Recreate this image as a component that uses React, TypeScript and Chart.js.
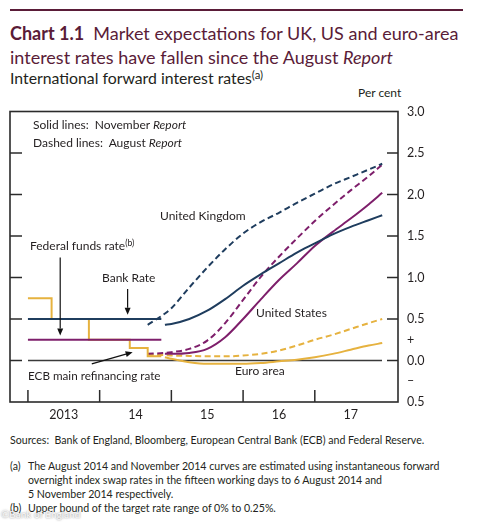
import React, { useEffect, useRef } from 'react';
import { Chart, registerables } from 'chart.js';

Chart.register(...registerables);

const FONT = "Lato, 'Noto Sans', sans-serif";
const TEXT = '#231f20';
const NAVY = '#1f3d5e';
const PURPLE = '#7e1f6b';
const GOLD = '#e6b23f';

// Historical policy rates (per cent)
const historyDates = [2013.0, 2014.86];
const bankRate = [0.5, 0.5];
const fedFundsRate = [0.25, 0.25];
const ecbDates = [2013.0, 2013.33, 2013.85, 2014.42, 2014.67, 2014.86];
const ecbRate = [0.75, 0.5, 0.25, 0.15, 0.05, 0.05];

// August Report forward curves (dashed)
const augDates = [2014.67, 2014.9, 2015.0, 2015.25, 2015.5, 2015.75, 2016.0, 2016.25, 2016.5, 2016.75, 2017.0, 2017.25, 2017.5, 2017.75, 2017.94];
const ukAug = [0.43, 0.56, 0.63, 0.88, 1.12, 1.34, 1.53, 1.67, 1.78, 1.9, 2.01, 2.12, 2.21, 2.3, 2.37];
const usAug = [0.08, 0.09, 0.1, 0.14, 0.24, 0.45, 0.73, 1.01, 1.25, 1.47, 1.68, 1.87, 2.05, 2.22, 2.36];
const euroAug = [0.07, 0.065, 0.06, 0.055, 0.05, 0.05, 0.06, 0.08, 0.12, 0.18, 0.25, 0.31, 0.38, 0.45, 0.5];

// November Report forward curves (solid)
const novDates = [2014.91, 2015.0, 2015.25, 2015.5, 2015.75, 2016.0, 2016.25, 2016.5, 2016.75, 2017.0, 2017.25, 2017.5, 2017.75, 2017.94];
const ukNov = [0.43, 0.44, 0.5, 0.6, 0.74, 0.9, 1.04, 1.17, 1.3, 1.41, 1.52, 1.61, 1.69, 1.75];
const usNov = [0.08, 0.08, 0.09, 0.14, 0.28, 0.5, 0.74, 0.97, 1.17, 1.38, 1.55, 1.71, 1.88, 2.02];
const euroNov = [0.04, 0.02, -0.02, -0.04, -0.04, -0.04, -0.03, -0.01, 0.01, 0.04, 0.08, 0.13, 0.18, 0.21];

// Axes
const xTickValues = [2013.5, 2014.5, 2015.5, 2016.5, 2017.5];
const xTickLabels = ['2013', '14', '15', '16', '17'];
const xMarkValues = [2013, 2014, 2015, 2016, 2017];
const yTickValues = [3.0, 2.5, 2.0, 1.5, 1.0, 0.5, 0.25, 0, -0.25, -0.5];
const yTickLabels = ['3.0', '2.5', '2.0', '1.5', '1.0', '0.5', '+', '0.0', '\u2013', '0.5'];
const yMarkValues = [2.5, 2.0, 1.5, 1.0, 0.5, 0];

// Annotation arrows: [x0, y0, x1, y1] in data units (tip at x1, y1)
const fedArrow = [2013.45, 1.24, 2013.45, 0.3];
const bankArrow = [2014.39, 0.86, 2014.39, 0.55];
const ecbArrow = [2013.89, -0.04, 2014.46, 0.1];

const pts = (xs: number[], ys: number[]) => xs.map((x, i) => ({ x, y: ys[i] }));

const line = (ctx: CanvasRenderingContext2D, x0: number, y0: number, x1: number, y1: number) => {
  ctx.beginPath();
  ctx.moveTo(x0, y0);
  ctx.lineTo(x1, y1);
  ctx.stroke();
};

const decorPlugin = {
  id: 'decor',
  beforeDatasetsDraw(chart: any) {
    const { ctx, chartArea: a, scales } = chart;
    const x = scales.x;
    const y = scales.y;
    ctx.save();
    ctx.strokeStyle = '#3a3a3a';
    ctx.lineWidth = 1.5;
    const y0 = y.getPixelForValue(0);
    line(ctx, a.left + 18, y0, a.right - 16, y0);
    ctx.strokeStyle = '#2b2b2b';
    yMarkValues.forEach((v) => {
      const py = y.getPixelForValue(v);
      line(ctx, a.left, py, a.left + 12, py);
      line(ctx, a.right - 11, py, a.right, py);
    });
    xMarkValues.forEach((v) => {
      const px = x.getPixelForValue(v);
      line(ctx, px, a.bottom, px, a.bottom - 12);
    });
    ctx.restore();
  },
  afterDatasetsDraw(chart: any) {
    const { ctx, chartArea: a, scales } = chart;
    const x = scales.x;
    const y = scales.y;
    ctx.save();
    ctx.strokeStyle = '#2b2b2b';
    ctx.lineWidth = 1.6;
    ctx.strokeRect(a.left, a.top, a.right - a.left, a.bottom - a.top);
    ctx.strokeStyle = '#111';
    ctx.fillStyle = '#111';
    ctx.lineWidth = 1.2;
    [fedArrow, bankArrow, ecbArrow].forEach((ar) => {
      const x0 = x.getPixelForValue(ar[0]);
      const y0 = y.getPixelForValue(ar[1]);
      const x1 = x.getPixelForValue(ar[2]);
      const y1 = y.getPixelForValue(ar[3]);
      const ang = Math.atan2(y1 - y0, x1 - x0);
      const hl = 7;
      const hw = 3;
      const bx = x1 - hl * Math.cos(ang);
      const by = y1 - hl * Math.sin(ang);
      line(ctx, x0, y0, bx, by);
      ctx.beginPath();
      ctx.moveTo(x1, y1);
      ctx.lineTo(bx + hw * Math.sin(ang), by - hw * Math.cos(ang));
      ctx.lineTo(bx - hw * Math.sin(ang), by + hw * Math.cos(ang));
      ctx.closePath();
      ctx.fill();
    });
    ctx.restore();
  },
};

const abs = (left: number, center: number, extra: React.CSSProperties = {}): React.CSSProperties => ({
  position: 'absolute',
  left,
  top: center - 8,
  lineHeight: '16px',
  whiteSpace: 'nowrap',
  fontFamily: FONT,
  fontSize: 12,
  color: TEXT,
  ...extra,
});

export default function App() {
  const ref = useRef<HTMLCanvasElement | null>(null);

  useEffect(() => {
    if (!ref.current) return;
    const solid = { borderWidth: 2, pointRadius: 0, fill: false };
    const dashed = { borderWidth: 2, pointRadius: 0, fill: false, borderDash: [6, 3.5] };
    const smooth = { cubicInterpolationMode: 'monotone' as const };
    const chart = new Chart(ref.current, {
      type: 'line',
      data: {
        datasets: [
          { label: 'Bank Rate', data: pts(historyDates, bankRate), borderColor: NAVY, ...solid },
          { label: 'Federal funds rate', data: pts(historyDates, fedFundsRate), borderColor: PURPLE, ...solid },
          { label: 'ECB main refinancing rate', data: pts(ecbDates, ecbRate), borderColor: GOLD, stepped: 'before', ...solid },
          { label: 'UK (November)', data: pts(novDates, ukNov), borderColor: NAVY, ...solid, ...smooth },
          { label: 'US (November)', data: pts(novDates, usNov), borderColor: PURPLE, ...solid, ...smooth },
          { label: 'Euro area (November)', data: pts(novDates, euroNov), borderColor: GOLD, ...solid, ...smooth },
          { label: 'UK (August)', data: pts(augDates, ukAug), borderColor: NAVY, ...dashed, ...smooth },
          { label: 'US (August)', data: pts(augDates, usAug), borderColor: PURPLE, ...dashed, ...smooth },
          { label: 'Euro area (August)', data: pts(augDates, euroAug), borderColor: GOLD, ...dashed, ...smooth },
        ] as any,
      },
      options: {
        animation: false,
        responsive: false,
        maintainAspectRatio: false,
        layout: { padding: { left: 10, top: 8, right: 32, bottom: 0 } },
        plugins: { legend: { display: false }, tooltip: { enabled: false } },
        scales: {
          x: {
            type: 'linear',
            min: 2012.75,
            max: 2018.16,
            grid: { display: false, drawTicks: false },
            border: { display: false },
            afterBuildTicks: (s: any) => {
              s.ticks = xTickValues.map((v) => ({ value: v }));
            },
            afterFit: (s: any) => {
              s.height = 28;
            },
            ticks: {
              autoSkip: false,
              maxRotation: 0,
              padding: 5,
              color: TEXT,
              font: { family: FONT, size: 12.5 },
              callback: (v: any) => {
                const i = xTickValues.indexOf(Number(v));
                return i >= 0 ? xTickLabels[i] : '';
              },
            },
          },
          y: {
            position: 'right',
            min: -0.5,
            max: 3.0,
            grid: { display: false, drawTicks: false },
            border: { display: false },
            afterBuildTicks: (s: any) => {
              s.ticks = yTickValues.map((v) => ({ value: v }));
            },
            afterFit: (s: any) => {
              s.width = 60;
            },
            ticks: {
              autoSkip: false,
              padding: 9,
              color: TEXT,
              font: { family: FONT, size: 12.5 },
              callback: (v: any) => {
                const i = yTickValues.indexOf(Number(v));
                return i >= 0 ? yTickLabels[i] : '';
              },
            },
          },
        },
      } as any,
      plugins: [decorPlugin],
    });
    return () => chart.destroy();
  }, []);

  const sup: React.CSSProperties = { fontSize: '0.72em', verticalAlign: '0.45em', lineHeight: 0 };
  const foot: React.CSSProperties = { fontSize: 10.6, color: TEXT };

  return (
    <div style={{ position: 'absolute', left: 0, top: 0, width: 490, height: 522, background: '#fff', overflow: 'hidden', fontFamily: FONT }}>
      <div style={{ position: 'absolute', left: 10, top: 9, width: 453, height: 2, background: '#5a1c38' }} />
      <div style={{ position: 'absolute', left: 10, top: 21, lineHeight: '24px', fontSize: 18, color: '#5a1c38', whiteSpace: 'nowrap' }}>
        <div><b>Chart 1.1</b>&nbsp; Market expectations for UK, US and euro-area</div>
        <div>interest rates have fallen since the August <i>Report</i></div>
      </div>
      <div style={abs(10, 78, { fontSize: 15.8, lineHeight: '20px', top: 68 })}>
        International forward interest rates<span style={sup}>(a)</span>
      </div>
      <div style={abs(358, 93)}>Per cent</div>

      <canvas ref={ref} width={490} height={335} style={{ position: 'absolute', left: 0, top: 95, width: 490, height: 335 }} />

      <div style={abs(33, 125)}>Solid lines:&nbsp; November <i>Report</i></div>
      <div style={abs(33, 143)}>Dashed lines:&nbsp; August <i>Report</i></div>
      <div style={abs(160, 216)}>United Kingdom</div>
      <div style={abs(30, 246)}>Federal funds rate<span style={sup}>(b)</span></div>
      <div style={abs(102, 278)}>Bank Rate</div>
      <div style={abs(256, 313)}>United States</div>
      <div style={abs(28, 375, { fontSize: 11.7 })}>ECB main refinancing rate</div>
      <div style={abs(235, 371)}>Euro area</div>

      <div style={abs(10, 440, foot)}>Sources:&nbsp; Bank of England, Bloomberg, European Central Bank (ECB) and Federal Reserve.</div>
      <div style={abs(10, 466, foot)}>(a)</div>
      <div style={abs(28, 466, foot)}>The August 2014 and November 2014 curves are estimated using instantaneous forward</div>
      <div style={abs(28, 480, foot)}>overnight index swap rates in the fifteen working days to 6 August 2014 and</div>
      <div style={abs(28, 494, foot)}>5 November 2014 respectively.</div>
      <div style={abs(10, 508, foot)}>(b)</div>
      <div style={abs(28, 508, foot)}>Upper bound of the target rate range of 0% to 0.25%.</div>
      <div style={abs(1, 514, { fontSize: 10, color: 'rgba(255,255,255,0.9)', textShadow: '0 0 2px rgba(90,90,90,0.8)' })}>©Bank of England</div>
    </div>
  );
}
